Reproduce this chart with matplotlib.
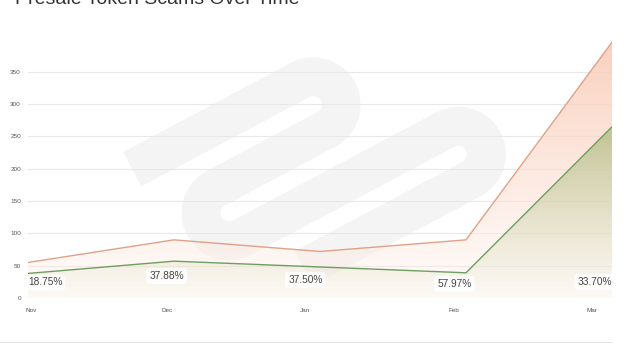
import numpy as np
import matplotlib
matplotlib.use("Agg")
import matplotlib.pyplot as plt
from matplotlib.colors import LinearSegmentedColormap

plt.rcParams['font.family'] = ['Liberation Sans', 'DejaVu Sans']

months = ['Nov', 'Dec', 'Jan', 'Feb', 'Mar']
total_scams = [55, 90, 72, 90, 396]
confirmed_scams = [38, 57, 48, 39, 265]
share_labels = ['18.75%', '37.88%', '37.50%', '57.97%', '33.70%']
label_y = [24, 34, 28, 22, 25]
# month labels sit a bit left of the data points in the original
tick_pos = [0.02, 0.95, 1.9, 2.92, 3.86]

x = np.arange(len(months))

W, H = 629, 348
fig = plt.figure(figsize=(6.29, 3.48), dpi=100)
ax = fig.add_axes([0.0445, 0.1437, 0.9285, 0.7425])
ax.patch.set_alpha(0)


# faint paperclip-like watermark behind the chart (pixel coords, y down)
def watermark_path():
    th = np.radians(28)
    d = np.array([np.cos(th), -np.sin(th)])
    n = np.array([np.sin(th), np.cos(th)])
    r = 28
    pts = []
    p = np.array([300.0, 80.0])
    pts.append(p - 190 * d)
    for i, L in enumerate([125, 230, 190]):
        c = p + r * n
        a0 = np.arctan2(-n[1], -n[0])
        sgn = 1 if i % 2 == 0 else -1
        for t in np.linspace(0, np.pi, 20):
            ang = a0 + sgn * t
            pts.append(c + r * np.array([np.cos(ang), np.sin(ang)]))
        p = p + 2 * r * n
        direction = -d if i % 2 == 0 else d
        p = p + L * direction
        pts.append(p.copy())
    return np.array(pts)


wm = watermark_path()
fig.add_artist(plt.Line2D(wm[:, 0] / W, 1 - wm[:, 1] / H, color='#f4f4f4', lw=28,
                          solid_joinstyle='round', solid_capstyle='butt', zorder=0))

ymax = 400
ax.set_xlim(0, len(months) - 1)
ax.set_ylim(0, ymax)


def gradient_fill(xs, ys, top_color, bottom_color, z):
    poly = ax.fill_between(xs, ys, 0, color='none', zorder=z)
    cmap = LinearSegmentedColormap.from_list('g', [bottom_color, top_color])
    grad = np.linspace(0, 1, 256).reshape(-1, 1) ** 0.8
    im = ax.imshow(grad, cmap=cmap, aspect='auto', origin='lower',
                   extent=[xs[0], xs[-1], 0, max(ys)], zorder=z)
    im.set_clip_path(poly.get_paths()[0], transform=ax.transData)


gradient_fill(x, total_scams, (0.98, 0.80, 0.72, 0.9), (1.0, 0.96, 0.94, 0.3), 2)
gradient_fill(x, confirmed_scams, (0.70, 0.74, 0.52, 0.8), (0.97, 0.95, 0.90, 0.2), 3)

ax.plot(x, total_scams, color='#dfa287', lw=1.0, zorder=4)
ax.plot(x, confirmed_scams, color='#6f9e60', lw=1.0, zorder=5)

for i, lab in enumerate(share_labels):
    ha = 'center'
    xi = tick_pos[i]
    if i == 0:
        ha = 'left'
        xi = 0
    elif i == len(months) - 1:
        ha = 'right'
        xi = x[-1]
    ax.text(xi, label_y[i], lab, ha=ha, va='center', fontsize=7.3, color='#444444',
            zorder=6, bbox=dict(boxstyle='round,pad=0.3', fc='white', ec='none', alpha=0.9))

ax.set_yticks(range(0, 351, 50))
ax.set_xticks(tick_pos)
ax.set_xticklabels(months)
ax.tick_params(axis='both', length=0, labelsize=4.6, colors='#555555')
ax.tick_params(axis='x', pad=7)
ax.tick_params(axis='y', pad=5)
ax.grid(axis='y', color='#e8e8e8', lw=0.8, zorder=0)
ax.set_axisbelow(True)
for s in ax.spines.values():
    s.set_visible(False)

fig.text(0.024, 1 - 4 / 348, 'Presale Token Scams Over Time', fontsize=14,
         color='#333333', va='baseline')
fig.add_artist(plt.Line2D([0, 0.973], [0.017, 0.017], color='#e6e6e6', lw=0.8))

fig.savefig('out.png', dpi=100, facecolor='white')
